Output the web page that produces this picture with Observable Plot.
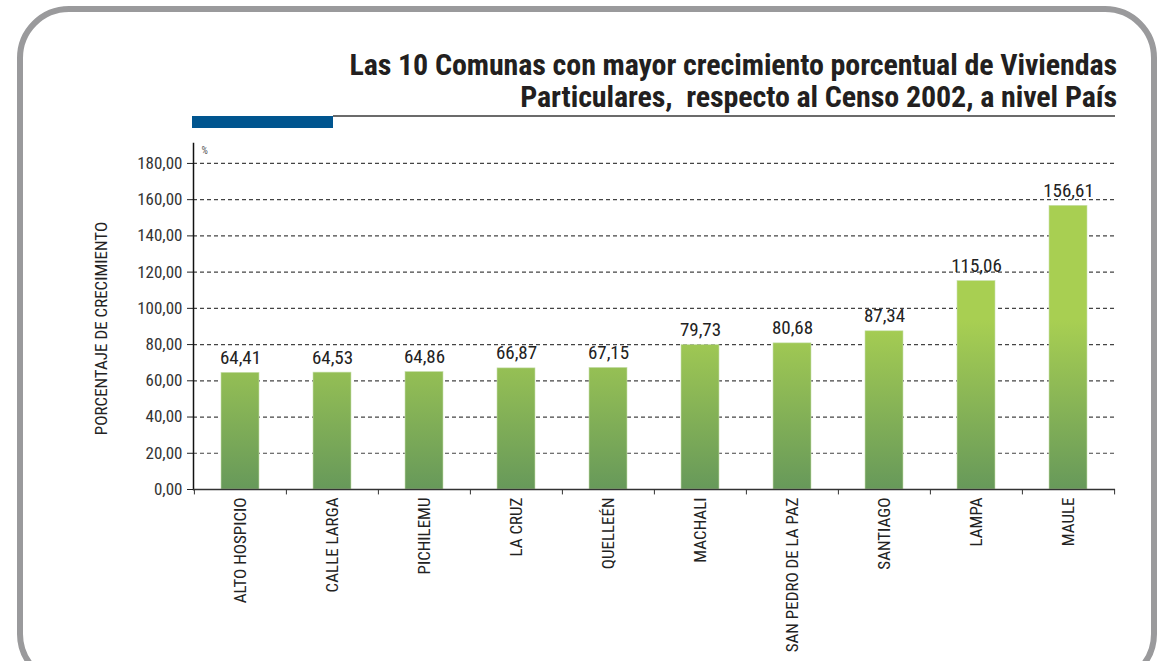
<!DOCTYPE html>
<html>
<head>
<meta charset="utf-8">
<script src="https://cdn.jsdelivr.net/npm/d3@7"></script>
<script src="https://cdn.jsdelivr.net/npm/@observablehq/plot@0.6"></script>
<style>
  html, body { margin: 0; padding: 0; background: #fff; }
  #wrap { position: relative; width: 1168px; height: 661px; overflow: hidden; font-family: "Liberation Sans Narrow", "Roboto Condensed", "Liberation Sans", sans-serif; }
  #frame { position: absolute; left: 17px; top: 6px; width: 1140px; height: 680px; border: 6px solid #9a9a9c; border-radius: 52px; box-sizing: border-box; }
  #title { position: absolute; right: 51px; top: 49px; text-align: right; font-weight: bold; font-size: 30px; line-height: 32px; color: #231f20; letter-spacing: -0.1px; }
  #blue { position: absolute; left: 192px; top: 116px; width: 141px; height: 12px; background: #00558f; }
  #hline { position: absolute; left: 333px; top: 115px; width: 782px; height: 2px; background: #6b6b6b; }
  #chart { position: absolute; left: 0; top: 0; }
</style>
</head>
<body>
<div id="wrap">
  <div id="chart"></div>
  <div id="frame"></div>
  <div id="title">Las 10 Comunas con mayor crecimiento porcentual de Viviendas<br>Particulares,&nbsp; respecto al Censo 2002, a nivel País</div>
  <div id="blue"></div>
  <div id="hline"></div>
</div>
<script>
const comunas = ["ALTO HOSPICIO", "CALLE LARGA", "PICHILEMU", "LA CRUZ", "QUELLEÉN", "MACHALI", "SAN PEDRO DE LA PAZ", "SANTIAGO", "LAMPA", "MAULE"];
const valores = [64.41, 64.53, 64.86, 66.87, 67.15, 79.73, 80.68, 87.34, 115.06, 156.61];
const yTicks = [0, 20, 40, 60, 80, 100, 120, 140, 160, 180];

const data = comunas.map((c, i) => ({comuna: c, valor: valores[i]}));
const fmt = v => v.toFixed(2).replace(".", ",");
const font = '"Liberation Sans Narrow", "Roboto Condensed", "Liberation Sans", sans-serif';

const W = 1168, H = 661, ML = 193, MR = 53;
const bw = (W - ML - MR) / comunas.length;

const chart = Plot.plot({
  width: W,
  height: H,
  marginLeft: ML,
  marginRight: MR,
  marginTop: 143,
  marginBottom: 172,
  style: {fontFamily: font, fontSize: "16px", color: "#333", background: "transparent"},
  x: {domain: comunas, paddingInner: 0.585, paddingOuter: 0.2925, axis: null},
  y: {domain: [0, 191], axis: null},
  marks: [
    Plot.ruleY(yTicks.filter(d => d > 0), {stroke: "#444", strokeDasharray: "4,3", strokeWidth: 1.2}),
    Plot.barY(data, {x: "comuna", y: "valor", fill: "url(#barGrad)", stroke: "#c9e0b0", strokeWidth: 0.6}),
    Plot.text(data, {x: "comuna", y: "valor", text: d => fmt(d.valor), dy: -15, fontSize: 19, fill: "#222"}),
    Plot.axisY(yTicks, {tickSize: 6, tickPadding: 5, tickFormat: fmt, fontSize: 17, fill: "#333", stroke: "#222", label: null}),
    Plot.frame({anchor: "left", stroke: "#111", strokeWidth: 1.5}),
    Plot.ruleY([0], {stroke: "#333", strokeWidth: 1.5}),
    Plot.ruleX(comunas, {x: d => d, y1: 0, y2: -3, dx: -bw / 2, stroke: "#333"}),
    Plot.ruleX([comunas[comunas.length - 1]], {x: d => d, y1: 0, y2: -3, dx: bw / 2, stroke: "#333"}),
    Plot.axisX({tickSize: 0, tickRotate: -90, tickPadding: 8, textAnchor: "end", fontSize: 17, fill: "#222", label: null}),
    Plot.text(["%"], {frameAnchor: "top-left", dx: 8, dy: 3, fontSize: 10, fill: "#555"}),
    Plot.text(["PORCENTAJE DE CRECIMIENTO"], {frameAnchor: "left", textAnchor: "middle", dx: -92, dy: 12, rotate: -90, fontSize: 17, fill: "#222"})
  ]
});

const svg = d3.select(chart);
const defs = svg.insert("defs", ":first-child");
const g = defs.append("linearGradient").attr("id", "barGrad")
  .attr("gradientUnits", "userSpaceOnUse")
  .attr("x1", 0).attr("x2", 0).attr("y1", 320).attr("y2", 489);
g.append("stop").attr("offset", "0%").attr("stop-color", "#a8cf52");
g.append("stop").attr("offset", "100%").attr("stop-color", "#67995a");

document.getElementById("chart").appendChild(chart);
</script>
</body>
</html>
